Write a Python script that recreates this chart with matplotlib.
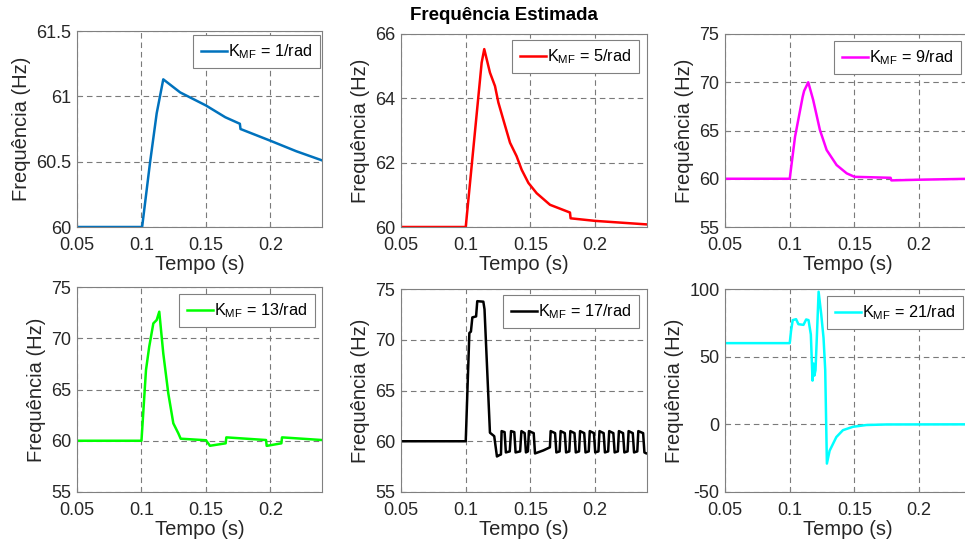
import matplotlib.pyplot as plt

plt.rcParams['font.family'] = ['Liberation Sans', 'DejaVu Sans']

# K_MF = 1/rad
t1 = [0.05, 0.1, 0.1005, 0.1066, 0.1118, 0.1169, 0.13, 0.15, 0.165, 0.1763, 0.1768, 0.2, 0.22, 0.24]
f1 = [60, 60, 60.0, 60.49, 60.87, 61.13, 61.03, 60.93, 60.84, 60.79, 60.75, 60.66, 60.58, 60.51]

# K_MF = 5/rad
t2 = [0.05, 0.1, 0.1123, 0.1143, 0.1187, 0.1226, 0.1252, 0.129, 0.1342, 0.1393, 0.1432,
      0.1484, 0.1548, 0.1651, 0.1805, 0.181, 0.2, 0.24]
f2 = [60, 60, 65.11, 65.53, 64.8, 64.38, 63.87, 63.34, 62.62, 62.2, 61.78,
      61.37, 61.05, 60.69, 60.45, 60.27, 60.19, 60.08]

# K_MF = 9/rad
t3 = [0.05, 0.1, 0.1041, 0.11, 0.1111, 0.1143, 0.1181, 0.1233, 0.1285, 0.1362, 0.144,
      0.15, 0.1779, 0.1785, 0.2, 0.24]
f3 = [60, 60, 64.36, 68.5, 69.1, 70.0, 68.17, 65.06, 62.98, 61.42, 60.56,
      60.2, 60.1, 59.83, 59.9, 60.0]

# K_MF = 13/rad
t4 = [0.05, 0.1, 0.1035, 0.106, 0.1092, 0.1118, 0.1138, 0.1169, 0.1208, 0.1247, 0.1286,
      0.1304, 0.15, 0.1531, 0.1653, 0.1658, 0.1966, 0.1971, 0.2085, 0.209, 0.24]
f4 = [60, 60, 66.9, 69.17, 71.45, 71.78, 72.59, 68.53, 64.62, 61.7, 60.72,
      60.2, 60.05, 59.51, 59.75, 60.33, 60.07, 59.5, 59.75, 60.33, 60.07]

# K_MF = 17/rad
t5 = [0.05, 0.1, 0.1028, 0.1040, 0.1051, 0.1080, 0.1089, 0.1136, 0.1145, 0.1187, 0.1220,
      0.1241, 0.1255, 0.1272, 0.1277, 0.1300, 0.1310, 0.1340, 0.1350, 0.1375, 0.1385,
      0.1420, 0.1430, 0.1455, 0.1465, 0.1480, 0.1488, 0.1525, 0.1535, 0.1600, 0.1650,
      0.1656, 0.1690, 0.1700, 0.1725, 0.1733, 0.1765, 0.1775, 0.1800, 0.1808, 0.1840,
      0.1850, 0.1875, 0.1883, 0.1915, 0.1925, 0.1950, 0.1958, 0.1990, 0.2000, 0.2025,
      0.2033, 0.2065, 0.2075, 0.2100, 0.2108, 0.2140, 0.2150, 0.2175, 0.2183, 0.2215,
      0.2225, 0.2250, 0.2258, 0.2290, 0.2300, 0.2325, 0.2333, 0.2370, 0.2380, 0.2395, 0.24]
f5 = [60, 60, 70.67, 70.8, 72.2, 72.3, 73.8, 73.75, 73.0, 60.84, 60.5,
      58.5, 58.6, 58.7, 61.0, 60.9, 58.9, 59.0, 61.0, 60.9, 58.9,
      59.0, 61.0, 60.8, 58.9, 59.0, 61.0, 60.8, 58.8, 59.1, 59.4,
      61.0, 60.8, 58.9, 59.0, 61.0, 60.8, 58.9, 59.0, 61.0, 60.8,
      58.9, 59.0, 61.0, 60.8, 58.9, 59.0, 61.0, 60.8, 58.9, 59.0,
      61.0, 60.8, 58.9, 59.0, 61.0, 60.8, 58.9, 59.0, 61.0, 60.8,
      58.9, 59.0, 61.0, 60.8, 58.9, 59.0, 61.0, 60.8, 58.9, 58.8, 58.8]

# K_MF = 21/rad
t6 = [0.05, 0.1, 0.101, 0.1023, 0.1049, 0.1067, 0.1106, 0.1127, 0.1145, 0.1163, 0.1176,
      0.1184, 0.1190, 0.1199, 0.121, 0.1223, 0.1243, 0.1261, 0.1274, 0.1287, 0.1308,
      0.136, 0.1411, 0.1489, 0.1592, 0.1747, 0.24]
f6 = [60, 60, 68.9, 77.0, 77.7, 74.0, 73.5, 77.5, 77.0, 66.4, 32.3,
      44.9, 36.0, 40.0, 66.0, 98.0, 81.5, 63.9, 40.2, -29.0, -19.5,
      -9.4, -4.3, -1.8, -0.5, -0.1, 0.0]

series = [(t1, f1), (t2, f2), (t3, f3), (t4, f4), (t5, f5), (t6, f6)]
colors = ['#0072BD', '#FF0000', '#FF00FF', '#00FF00', '#000000', '#00FFFF']
gains = [1, 5, 9, 13, 17, 21]
yticks = [[60, 60.5, 61, 61.5], [60, 62, 64, 66], [55, 60, 65, 70, 75],
          [55, 60, 65, 70, 75], [55, 60, 65, 70, 75], [-50, 0, 50, 100]]
ytick_labels = [['60', '60.5', '61', '61.5'], ['60', '62', '64', '66'],
                ['55', '60', '65', '70', '75'], ['55', '60', '65', '70', '75'],
                ['55', '60', '65', '70', '75'], ['-50', '0', '50', '100']]
xticks = [0.05, 0.1, 0.15, 0.2]
xtick_labels = ['0.05', '0.1', '0.15', '0.2']

W, H = 965, 549
# axes boxes in pixels: left, top, right, bottom
boxes = [(77, 31, 322, 227), (401, 34, 647, 227), (725, 34, 971, 227),
         (77, 287, 322, 492), (401, 289, 647, 492), (725, 289, 971, 492)]
legend_anchor = [(0.992, 0.980), (0.967, 0.969), (0.959, 0.964),
                 (0.971, 0.966), (0.967, 0.970), (0.967, 0.966)]

fig = plt.figure(figsize=(W / 100, H / 100), dpi=100)

for i in range(6):
    l, t, r, b = boxes[i]
    ax = fig.add_axes([l / W, 1 - b / H, (r - l) / W, (b - t) / H])
    x, y = series[i]
    ax.plot(x, y, color=colors[i], lw=1.8,
            label=r'K$_{\mathregular{MF}}$ = %d/rad' % gains[i])
    ax.set_xlim(0.05, 0.24)
    ax.set_ylim(yticks[i][0], yticks[i][-1])
    ax.set_xticks(xticks)
    ax.set_xticklabels(xtick_labels)
    ax.set_yticks(yticks[i])
    ax.set_yticklabels(ytick_labels[i])
    ax.grid(True, linestyle=(0, (5, 3.5)), color='#7a7a7a', lw=0.8)
    ax.tick_params(direction='in', length=3, labelsize=13, colors='#262626',
                   color='#808080')
    ax.tick_params(axis='x', pad=7)
    ax.tick_params(axis='y', pad=4)
    for s in ax.spines.values():
        s.set_color('#808080')
        s.set_linewidth(0.8)
    ax.set_xlabel('Tempo (s)', fontsize=14.5, color='#262626', labelpad=1)
    ax.set_ylabel('Frequência (Hz)', fontsize=14.5, color='#262626', labelpad=4)
    leg = ax.legend(loc='upper right', bbox_to_anchor=legend_anchor[i],
                    borderaxespad=0, fontsize=11.7, handlelength=1.6,
                    handletextpad=0.1, borderpad=0.45, fancybox=False,
                    framealpha=1)
    leg.get_frame().set_edgecolor('#808080')
    leg.get_frame().set_linewidth(0.8)

fig.text(504 / W, 1 - 15 / H, 'Frequência Estimada', ha='center', va='center',
         fontsize=13.5, fontweight='bold')

fig.savefig('out.png', dpi=100)
